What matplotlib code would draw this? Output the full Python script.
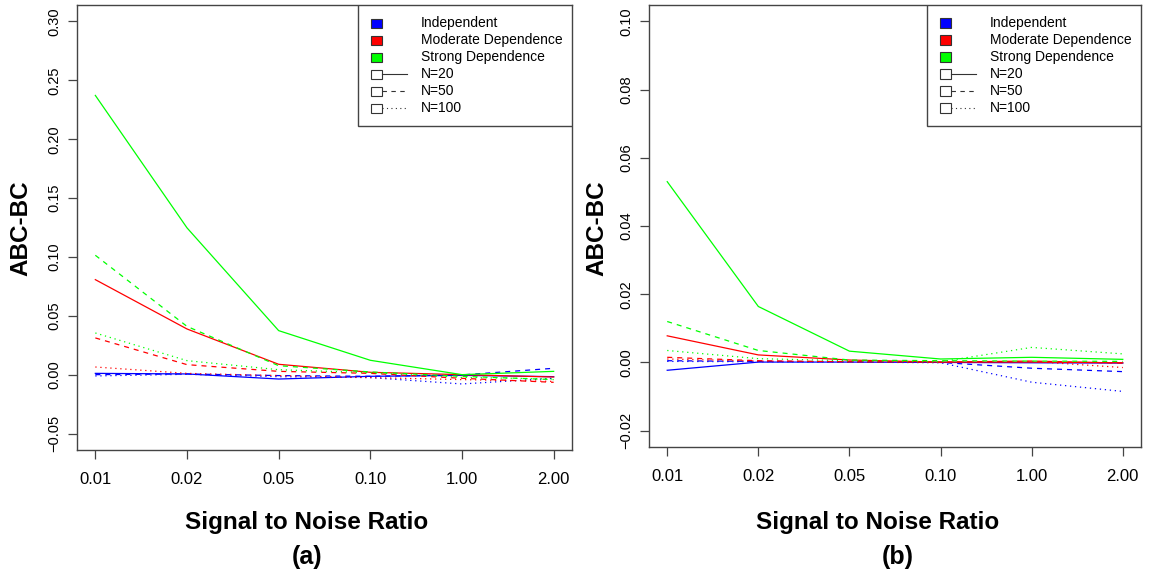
import matplotlib
matplotlib.use("Agg")
import matplotlib.pyplot as plt
from matplotlib.patches import Rectangle
from matplotlib.lines import Line2D

plt.rcParams["font.family"] = ["Liberation Sans", "DejaVu Sans"]

# --- Data ---
snr_labels = ["0.01", "0.02", "0.05", "0.10", "1.00", "2.00"]
x_pos = [1, 2, 3, 4, 5, 6]

groups = ["Independent", "Moderate Dependence", "Strong Dependence"]
sizes = ["N=20", "N=50", "N=100"]

# panel (a)
a_ind_20 = [0.0011, 0.0006, -0.0037, -0.0014, -0.0006, -0.0017]
a_ind_50 = [0.0000, 0.0006, -0.0008, -0.0014, -0.0002, 0.0054]
a_ind_100 = [-0.0011, 0.0003, -0.0017, -0.0025, -0.0079, -0.0031]
a_mod_20 = [0.0807, 0.0388, 0.0088, 0.0020, 0.0000, -0.0020]
a_mod_50 = [0.0312, 0.0085, 0.0028, 0.0011, -0.0031, -0.0065]
a_mod_100 = [0.0065, 0.0011, -0.0008, -0.0025, -0.0042, -0.0057]
a_str_20 = [0.2372, 0.1247, 0.0374, 0.0122, 0.0000, 0.0028]
a_str_50 = [0.1014, 0.0410, 0.0076, 0.0023, -0.0014, -0.0042]
a_str_100 = [0.0354, 0.0119, 0.0042, 0.0017, -0.0023, -0.0037]

# panel (b)
b_ind_20 = [-0.0023, 0.0001, 0.0001, 0.0000, -0.0001, -0.0002]
b_ind_50 = [0.0005, 0.0003, 0.0002, 0.0000, -0.0017, -0.0027]
b_ind_100 = [0.0003, 0.0002, 0.0001, -0.0001, -0.0058, -0.0085]
b_mod_20 = [0.0078, 0.0022, 0.0007, 0.0001, 0.0001, -0.0001]
b_mod_50 = [0.0015, 0.0005, 0.0002, 0.0001, 0.0004, -0.0002]
b_mod_100 = [0.0010, 0.0004, 0.0002, 0.0001, 0.0003, -0.0015]
b_str_20 = [0.0530, 0.0164, 0.0033, 0.0010, 0.0015, 0.0009]
b_str_50 = [0.0120, 0.0035, 0.0007, 0.0005, 0.0004, 0.0003]
b_str_100 = [0.0035, 0.0011, 0.0005, 0.0002, 0.0044, 0.0025]

colors = ["#0000FF", "#FF0000", "#00FF00"]
styles = ["-", (0, (4, 4)), (0, (1, 3))]

panels = [
    dict(series=[[a_ind_20, a_ind_50, a_ind_100],
                 [a_mod_20, a_mod_50, a_mod_100],
                 [a_str_20, a_str_50, a_str_100]],
         rect=[77 / 1154, 1 - 450 / 580, (572 - 77) / 1154, (450 - 5) / 580],
         ylim=(-0.05, 0.30), yticks=[-0.05, 0.00, 0.05, 0.10, 0.15, 0.20, 0.25, 0.30],
         yfmt="{:.2f}", ylab_x=21, xlab_x=307, tag="(a)", tag_x=307),
    dict(series=[[b_ind_20, b_ind_50, b_ind_100],
                 [b_mod_20, b_mod_50, b_mod_100],
                 [b_str_20, b_str_50, b_str_100]],
         rect=[649 / 1154, 1 - 447 / 580, (1141 - 649) / 1154, (447 - 5) / 580],
         ylim=(-0.02, 0.10), yticks=[-0.02, 0.00, 0.02, 0.04, 0.06, 0.08, 0.10],
         yfmt="{:.2f}", ylab_x=597, xlab_x=878, tag="(b)", tag_x=898),
]

W, H = 1154, 580
fig = plt.figure(figsize=(W / 100, H / 100), dpi=100)
edge = "#444444"

for p in panels:
    ax = fig.add_axes(p["rect"])
    for gi, grp in enumerate(p["series"]):
        for si, vals in enumerate(grp):
            ax.plot(x_pos, vals, color=colors[gi], linestyle=styles[si], linewidth=0.9)

    lo, hi = p["ylim"]
    pad = 0.04 * (hi - lo)
    ax.set_ylim(lo - pad, hi + pad)
    ax.set_xlim(1 - 0.2, 6 + 0.2)
    ax.set_xticks(x_pos)
    ax.set_xticklabels(snr_labels, fontsize=12)
    ax.set_yticks(p["yticks"])
    ax.set_yticklabels([p["yfmt"].format(v).replace("-", "\u2212") for v in p["yticks"]],
                       fontsize=10.5, rotation=90, va="center")
    ax.tick_params(axis="x", length=6.5, width=0.9, color=edge, pad=9)
    ax.tick_params(axis="y", length=6.5, width=0.9, color=edge, pad=5)
    for s in ax.spines.values():
        s.set_color(edge)
        s.set_linewidth(1.0)
    ax.spines["left"].set_bounds(lo - pad, hi + pad)

    # legend box (R style), placed at the top right corner
    bw = 214 / (p["rect"][2] * W)
    bh = 121 / (p["rect"][3] * H)
    ax.add_patch(Rectangle((1 - bw, 1 - bh), bw, bh, transform=ax.transAxes,
                           facecolor="white", edgecolor=edge, linewidth=1.0, zorder=5))
    px = 1 / (p["rect"][2] * W)
    py = 1 / (p["rect"][3] * H)
    x0 = 1 - bw
    labels = groups + sizes
    for i, lab in enumerate(labels):
        yc = 1 - (18 + 17 * i) * py
        fc = colors[i] if i < 3 else "white"
        ax.add_patch(Rectangle((x0 + 13 * px, yc - 4.5 * py), 11 * px, 9 * py,
                               transform=ax.transAxes, facecolor=fc, edgecolor="#333333",
                               linewidth=0.8, zorder=6))
        if i >= 3:
            ax.add_line(Line2D([x0 + 24 * px, x0 + 49 * px], [yc, yc], transform=ax.transAxes,
                               color="#333333", linewidth=0.8, linestyle=styles[i - 3], zorder=6))
        ax.text(x0 + 63 * px, yc, lab, transform=ax.transAxes, fontsize=10,
                va="center", ha="left", zorder=7)

    fig.text(p["ylab_x"] / W, 1 - 228 / H, "ABC-BC", rotation=90, fontsize=17.5,
             fontweight="bold", ha="center", va="center")
    fig.text(p["xlab_x"] / W, 1 - 522 / H, "Signal to Noise Ratio", fontsize=17.5,
             fontweight="bold", ha="center", va="center")
    fig.text(p["tag_x"] / W, 1 - 557 / H, p["tag"], fontsize=18,
             fontweight="bold", ha="center", va="center")

fig.savefig("out.png", dpi=100)
plt.close(fig)
